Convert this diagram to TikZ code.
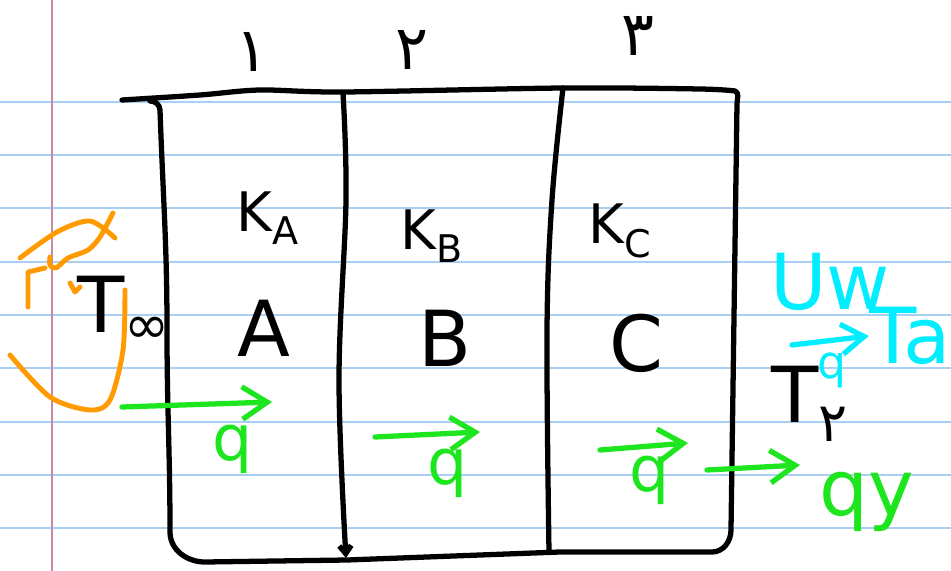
\documentclass[tikz,border=0pt]{standalone}
\usepackage{fontspec}
\setmainfont{DejaVu Sans}
\newfontfamily\arabicfont[Script=Arabic]{DejaVu Sans}
\usepackage{xcolor}
\usepackage{tikz}
\usetikzlibrary{positioning,arrows.meta}
\definecolor{ink}{HTML}{000000}
\definecolor{ruled}{HTML}{A9CFF5}
\definecolor{margin}{HTML}{C58AA6}
\definecolor{pen}{HTML}{1EE61E}
\definecolor{aqua}{HTML}{00EEFF}
\definecolor{flame}{HTML}{FF9A00}

\begin{document}
\begin{tikzpicture}[
    x=0.02cm, y=-0.02cm,
    wall/.style={draw=ink, line width=3pt, line cap=round, line join=round},
    lbl/.style={inner sep=0pt, font=\fontsize{44}{48}\selectfont},
    klbl/.style={inner sep=0pt, font=\fontsize{31}{34}\selectfont},
    num/.style={inner sep=0pt, font=\arabicfont\fontsize{35}{38}\selectfont},
    qlbl/.style={inner sep=0pt, text=pen, font=\fontsize{36}{40}\selectfont},
    airlbl/.style={inner sep=0pt, text=aqua, font=\fontsize{44}{48}\selectfont},
    flux/.style={draw=pen, line width=3pt, line cap=round, -{Straight Barb[length=5mm,width=6.5mm]}},
    airflux/.style={draw=aqua, line width=3pt, line cap=round, -{Straight Barb[length=4.5mm,width=6mm]}},
    scribble/.style={draw=flame, line width=2.8pt, line cap=round, line join=round}
]
    \useasboundingbox (0,0) rectangle (951,571);
    \fill[white] (0,0) rectangle (951,571);

    % ruled paper
    \foreach \k in {0,...,8}
        \draw[ruled, line width=1.1pt] (0,{101.7+53.33*\k}) -- (951,{101.7+53.33*\k});
    \draw[margin, line width=1.1pt] (52,0) -- (52,571);

    % layered wall
    \draw[wall] plot[smooth, tension=0.5] coordinates {(122,100) (200,95) (260,90) (343,92) (563,88) (700,89) (735,91)}
        to[out=-20,in=90] (737,104)
        -- (731,530) to[out=-90,in=0] (712,552)
        -- (560,552) -- (347,560) -- (205,562) to[out=180,in=-90] (170,532)
        to[out=90,in=-90] (167,330) to[out=90,in=-88] (160,110) to[out=92,in=0] (150,101);
    \draw[wall, -{Straight Barb[length=1.6mm,width=2.4mm]}] plot[smooth, tension=0.6] coordinates {(343,93) (346,200) (339,380) (346,558)};
    \draw[wall] plot[smooth, tension=0.6] coordinates {(563,88) (552,200) (547,330) (549,552)};

    % layer numbers
    \node[num] (one) at (252,52) {۱};
    \node[num] (two) at (412,50) {۲};
    \node[num] (three) at (638,36) {۳};

    % conductivities and layer names
    \node[klbl] (ka) at (268,218) {K\textsubscript{A}};
    \node[klbl] (kb) at (432,236) {K\textsubscript{B}};
    \node[klbl] (kc) at (620,231) {K\textsubscript{C}};
    \node[lbl] (la) at (264,328) {A};
    \node[lbl] (lb) at (445,338) {B};
    \node[lbl] (lc) at (636,343) {C};

    % surroundings
    \node[lbl] (tleft) at (124,310) {T\textsubscript{∞}};
    \node[lbl] (tright) at (810,404) {T\textsubscript{\arabicfont ۲}};

    % heat flow
    \coordinate (f1s) at (122,407);
    \coordinate (f1e) at (272,402);
    \coordinate (f2s) at (375,437);
    \coordinate (f2e) at (480,432);
    \coordinate (f3s) at (600,450);
    \coordinate (f3e) at (688,443);
    \coordinate (f4s) at (707,470);
    \coordinate (f4e) at (800,465);
    \draw[flux] (f1s) -- (f1e);
    \draw[flux] (f2s) -- (f2e);
    \draw[flux] (f3s) -- (f3e);
    \draw[flux] (f4s) -- (f4e);
    \node[qlbl] (q1) at (233,449) {q};
    \node[qlbl] (q2) at (448,473) {q};
    \node[qlbl] (q3) at (650,480) {q};
    \node[qlbl, font=\fontsize{44}{48}\selectfont] (qy) at (867,502) {qy};

    % air side
    \node[airlbl] (uw) at (830,282) {Uw};
    \node[airlbl] (ta) at (910,336) {Ta};
    \node[airlbl, font=\fontsize{26}{28}\selectfont] (qa) at (832,370) {q};
    \coordinate (airs) at (792,345);
    \draw[airflux] (airs) -- (ta.west);

    % heater sketch
    \draw[scribble] plot[smooth] coordinates {(20,258) (57,232) (90,221) (115,238)};
    \draw[scribble] plot[smooth] coordinates {(113,213) (100,237) (88,250) (68,258) (56,268) (50,265) (50,257)};
    \draw[scribble] (28,307) -- (28,272) -- (45,268);
    \draw[scribble] (70,283) -- (75,292) -- (80,287);
    \draw[scribble] plot[smooth] coordinates {(10,355) (50,397) (90,410) (110,400) (123,350) (125,290)};
\end{tikzpicture}
\end{document}
